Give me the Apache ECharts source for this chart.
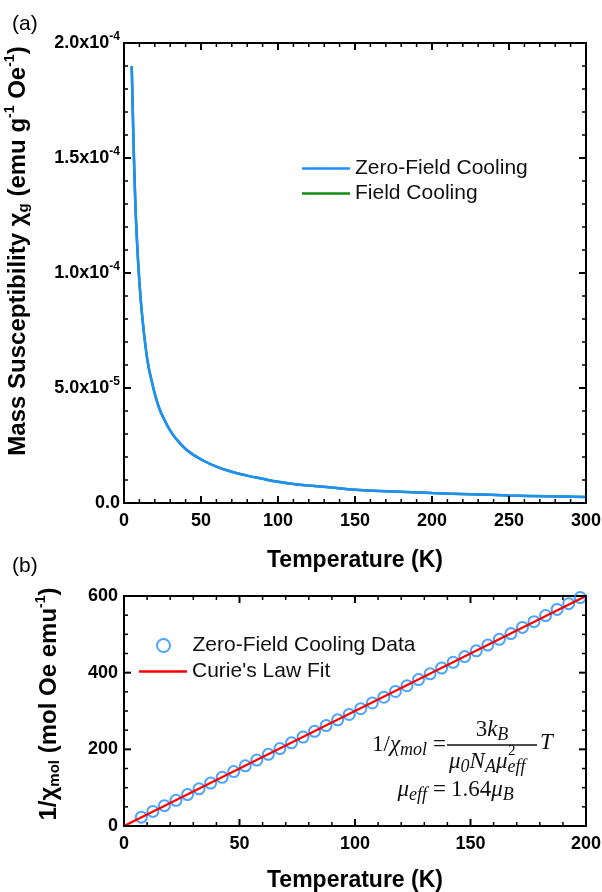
<!DOCTYPE html>
<html>
<head>
	<meta charset="UTF-8">
	<title>Susceptibility</title>
	<script src="https://cdn.jsdelivr.net/npm/echarts@6/dist/echarts.min.js"></script>
	<style>
		body { margin: 0; background: #fff; }
		#main { width: 602px; height: 892px; }
	</style>
</head>
<body>
	<div id="main"></div>
	<script>
		// (a) mass susceptibility vs temperature
		var tempA = [5, 6, 7, 8, 10, 12, 14, 16, 18, 20, 23, 26, 30, 35, 40, 45, 50, 60, 70, 80, 90, 100, 110, 120, 135, 150, 175, 200, 225, 250, 275, 300];
		var chiZFC = [1.90e-4, 1.62e-4, 1.38e-4, 1.20e-4, 9.6e-5, 8.0e-5, 6.8e-5, 5.9e-5, 5.3e-5, 4.75e-5, 4.1e-5, 3.65e-5, 3.15e-5, 2.7e-5, 2.35e-5, 2.1e-5, 1.9e-5, 1.58e-5, 1.36e-5, 1.19e-5, 1.05e-5, 9.2e-6, 8.3e-6, 7.6e-6, 6.7e-6, 5.8e-6, 5.0e-6, 4.3e-6, 3.8e-6, 3.3e-6, 2.9e-6, 2.6e-6];
		var chiFC = [1.90e-4, 1.62e-4, 1.38e-4, 1.20e-4, 9.6e-5, 8.0e-5, 6.8e-5, 5.9e-5, 5.3e-5, 4.75e-5, 4.1e-5, 3.65e-5, 3.15e-5, 2.7e-5, 2.35e-5, 2.1e-5, 1.9e-5, 1.58e-5, 1.36e-5, 1.19e-5, 1.05e-5, 9.2e-6, 8.3e-6, 7.6e-6, 6.7e-6, 5.8e-6, 5.0e-6, 4.3e-6, 3.8e-6, 3.3e-6, 2.9e-6, 2.6e-6];

		// (b) inverse molar susceptibility + Curie fit
		var tempB = [7.5, 12.5, 17.5, 22.5, 27.5, 32.5, 37.5, 42.5, 47.5, 52.5, 57.5, 62.5, 67.5, 72.5, 77.5, 82.5, 87.5, 92.5, 97.5, 102.5, 107.5, 112.5, 117.5, 122.5, 127.5, 132.5, 137.5, 142.5, 147.5, 152.5, 157.5, 162.5, 167.5, 172.5, 177.5, 182.5, 187.5, 192.5, 197.5];
		var invChi = [23, 38, 53, 67, 82, 97, 112, 127, 142, 157, 172, 187, 202, 217, 232, 247, 262, 277, 291, 306, 321, 336, 351, 366, 382, 397, 412, 427, 442, 457, 472, 487, 502, 518, 533, 549, 565, 580, 596];
		var fitT = [0, 200];
		var fitY = [0, 600];

		// axis ranges (interval = major ticks, split = minor subdivisions)
		var xTicksA = { min: 0, max: 300, interval: 50, split: 5 };
		var yTicksA = { min: 0, max: 2e-4, interval: 5e-5, split: 5 };
		var xTicksB = { min: 0, max: 200, interval: 50, split: 5 };
		var yTicksB = { min: 0, max: 600, interval: 200, split: 4 };

		function pairs(xs, ys) {
			return xs.map(function (x, i) { return [x, ys[i]]; });
		}

		var FONT = 'Liberation Sans, Arial, sans-serif';
		var SERIF = 'Liberation Serif, Times New Roman, serif';
		var BLUE = '#1E8FFF';
		var MAJOR = 7, MINOR = 4;

		// tick list [value, length, kind]; kind 0 = x tick, 1 = y tick
		function tickItems(t, kind) {
			var out = [];
			var step = t.interval / t.split;
			var n = Math.round((t.max - t.min) / step);
			for (var k = 0; k <= n; k++) {
				out.push([t.min + k * step, k % t.split === 0 ? MAJOR : MINOR, kind]);
			}
			return out;
		}

		// inward ticks on all four sides, placed through the axis scales
		function tickSeries(grid, xt, yt) {
			return {
				type: 'custom', xAxisIndex: grid, yAxisIndex: grid, silent: true, clip: false, z: 10,
				data: tickItems(xt, 0).concat(tickItems(yt, 1)),
				renderItem: function (params, api) {
					var v = api.value(0), len = api.value(1), kind = api.value(2);
					var w = len === MAJOR ? 2 : 1.5;
					var a, b, s1, s2;
					if (kind === 0) {
						a = api.coord([v, yt.min]); b = api.coord([v, yt.max]);
						s1 = { x1: a[0], y1: a[1], x2: a[0], y2: a[1] - len };
						s2 = { x1: b[0], y1: b[1], x2: b[0], y2: b[1] + len };
					} else {
						a = api.coord([xt.min, v]); b = api.coord([xt.max, v]);
						s1 = { x1: a[0], y1: a[1], x2: a[0] + len, y2: a[1] };
						s2 = { x1: b[0], y1: b[1], x2: b[0] - len, y2: b[1] };
					}
					return {
						type: 'group',
						children: [
							{ type: 'line', shape: s1, style: { stroke: '#000', lineWidth: w } },
							{ type: 'line', shape: s2, style: { stroke: '#000', lineWidth: w } }
						]
					};
				}
			};
		}

		function axisLine() { return { show: true, lineStyle: { color: '#000', width: 2 } }; }
		function tickLabel(m) { return { margin: m, color: '#000', fontSize: 18, fontWeight: 'bold', fontFamily: FONT }; }

		var nameRich = {
			n: { fontSize: 24, fontWeight: 'bold', fontFamily: FONT, color: '#000', verticalAlign: 'middle' },
			sub: { fontSize: 15, fontWeight: 'bold', fontFamily: FONT, color: '#000', verticalAlign: 'middle', padding: [12, 0, 0, 0] },
			sup: { fontSize: 14, fontWeight: 'bold', fontFamily: FONT, color: '#000', verticalAlign: 'middle', padding: [0, 0, 16, 0] }
		};

		function sciLabel(v) {
			if (v === 0) return '{b|0.0}';
			var e = Math.floor(Math.log10(v) + 1e-9);
			var m = (v / Math.pow(10, e)).toFixed(1);
			return '{b|' + m + 'x10}{s|' + e + '}';
		}

		var legendText = { fontSize: 21, fontFamily: FONT, color: '#111' };

		// math text styles for the Curie-law annotation
		var mathRich = {
			r: { fontSize: 23, fontFamily: SERIF, fill: '#111', verticalAlign: 'middle' },
			i: { fontSize: 23, fontFamily: SERIF, fontStyle: 'italic', fill: '#111', verticalAlign: 'middle' },
			s: { fontSize: 18, fontFamily: SERIF, fontStyle: 'italic', fill: '#111', verticalAlign: 'middle', padding: [11, 0, 0, 0] },
			g: { fontSize: 23, fontFamily: SERIF, fill: '#111', width: 6 }
		};

		var chart = echarts.init(document.getElementById('main'), null, { renderer: 'canvas' });

		var option = {
			backgroundColor: '#fff',
			animation: false,
			grid: [
				{ left: 124, width: 462, top: 43, height: 460, outerBoundsMode: 'none', show: true, borderColor: '#000', borderWidth: 2, backgroundColor: 'rgba(0,0,0,0)' },
				{ left: 124, width: 462, top: 596, height: 230, outerBoundsMode: 'none', show: true, borderColor: '#000', borderWidth: 2, backgroundColor: 'rgba(0,0,0,0)' }
			],
			xAxis: [
				{
					type: 'value', gridIndex: 0, min: xTicksA.min, max: xTicksA.max, interval: xTicksA.interval,
					name: 'Temperature (K)', nameLocation: 'middle', nameGap: 46,
					nameTextStyle: { fontSize: 23, fontWeight: 'bold', fontFamily: FONT, color: '#000' },
					axisLine: axisLine(), axisTick: { show: false },
					axisLabel: tickLabel(9), splitLine: { show: false }
				},
				{
					type: 'value', gridIndex: 1, min: xTicksB.min, max: xTicksB.max, interval: xTicksB.interval,
					name: 'Temperature (K)', nameLocation: 'middle', nameGap: 43,
					nameTextStyle: { fontSize: 23, fontWeight: 'bold', fontFamily: FONT, color: '#000' },
					axisLine: axisLine(), axisTick: { show: false },
					axisLabel: tickLabel(9), splitLine: { show: false }
				}
			],
			yAxis: [
				{
					type: 'value', gridIndex: 0, min: yTicksA.min, max: yTicksA.max, interval: yTicksA.interval,
					name: '{n|Mass Susceptibility χ}{sub|g}{n| (emu g}{sup|-1}{n| Oe}{sup|-1}{n|)}',
					nameLocation: 'middle', nameGap: 91, nameRotate: 90,
					nameTextStyle: { rich: nameRich, padding: [0, 0, 0, 44] },
					axisLine: axisLine(), axisTick: { show: false }, splitLine: { show: false },
					axisLabel: {
						margin: 4, formatter: sciLabel,
						rich: {
							b: { fontSize: 18, fontWeight: 'bold', fontFamily: FONT, color: '#000', verticalAlign: 'middle' },
							s: { fontSize: 12, fontWeight: 'bold', fontFamily: FONT, color: '#000', verticalAlign: 'middle', padding: [0, 0, 13, 0] }
						}
					}
				},
				{
					type: 'value', gridIndex: 1, min: yTicksB.min, max: yTicksB.max, interval: yTicksB.interval,
					name: '{n|1/χ}{sub|mol}{n| (mol Oe emu}{sup|-1}{n|)}',
					nameLocation: 'middle', nameGap: 60, nameRotate: 90,
					nameTextStyle: { rich: nameRich, padding: [0, 0, 0, 14] },
					axisLine: axisLine(), axisTick: { show: false }, splitLine: { show: false },
					axisLabel: tickLabel(6)
				}
			],
			legend: [
				{
					data: ['Zero-Field Cooling', 'Field Cooling'],
					orient: 'vertical', left: 302, top: 158, itemGap: 4, padding: 0,
					icon: 'rect', itemWidth: 48, itemHeight: 2.5,
					textStyle: legendText
				},
				{
					data: ['Zero-Field Cooling Data'],
					orient: 'vertical', left: 156, top: 635, padding: 0,
					icon: 'circle', itemWidth: 48, itemHeight: 13,
					itemStyle: { color: '#fff', borderColor: BLUE, borderWidth: 2 },
					textStyle: legendText
				},
				{
					data: ["Curie's Law Fit"],
					orient: 'vertical', left: 139, top: 661, padding: 0,
					icon: 'rect', itemWidth: 48, itemHeight: 2.5,
					textStyle: legendText
				}
			],
			series: [
				{
					name: 'Field Cooling', type: 'line', xAxisIndex: 0, yAxisIndex: 0,
					data: pairs(tempA, chiFC), symbol: 'none', smooth: true, z: 2,
					lineStyle: { color: '#138A13', width: 2.5 }, itemStyle: { color: '#138A13' }
				},
				{
					name: 'Zero-Field Cooling', type: 'line', xAxisIndex: 0, yAxisIndex: 0,
					data: pairs(tempA, chiZFC), symbol: 'none', smooth: true, z: 3,
					lineStyle: { color: BLUE, width: 2.5 }, itemStyle: { color: BLUE }
				},
				{
					name: 'Zero-Field Cooling Data', type: 'scatter', xAxisIndex: 1, yAxisIndex: 1,
					data: pairs(tempB, invChi), symbol: 'circle', symbolSize: 11, z: 2,
					itemStyle: { color: 'rgba(255,255,255,0)', borderColor: BLUE, borderWidth: 2 }
				},
				{
					name: "Curie's Law Fit", type: 'line', xAxisIndex: 1, yAxisIndex: 1,
					data: pairs(fitT, fitY), symbol: 'none', z: 3,
					lineStyle: { color: '#FF0000', width: 2 }, itemStyle: { color: '#FF0000' }
				},
				tickSeries(0, xTicksA, yTicksA),
				tickSeries(1, xTicksB, yTicksB)
			],
			graphic: [
				{ type: 'text', left: 12, top: 14, style: { text: '(a)', fontSize: 21, fontFamily: FONT, fill: '#000' } },
				{ type: 'text', left: 12, top: 556, style: { text: '(b)', fontSize: 21, fontFamily: FONT, fill: '#000' } },
				{
					type: 'text', x: 446, y: 745,
					style: { text: '{r|1/}{i|χ}{s|mol}{g| }{r|=}', align: 'right', verticalAlign: 'middle', rich: mathRich }
				},
				{
					type: 'text', x: 492, y: 730,
					style: { text: '{r|3}{i|k}{s|B}', align: 'center', verticalAlign: 'middle', rich: mathRich }
				},
				{ type: 'line', shape: { x1: 447, y1: 745, x2: 537, y2: 745 }, style: { stroke: '#111', lineWidth: 1.3 } },
				{
					type: 'text', x: 449, y: 762,
					style: { text: '{i|μ}{s|0}{i|N}{s|A}{i|μ}{s|eff}', align: 'left', verticalAlign: 'middle', rich: mathRich }
				},
				{ type: 'text', x: 508, y: 751, style: { text: '2', fontSize: 15, fontFamily: SERIF, fill: '#111', verticalAlign: 'middle' } },
				{ type: 'text', x: 540, y: 743, style: { text: 'T', fontSize: 23, fontFamily: SERIF, fontStyle: 'italic', fill: '#111', verticalAlign: 'middle' } },
				{
					type: 'text', x: 446, y: 790,
					style: { text: '{i|μ}{s|eff}{g| }{r|=}', align: 'right', verticalAlign: 'middle', rich: mathRich }
				},
				{
					type: 'text', x: 451, y: 790,
					style: { text: '{r|1.64}{i|μ}{s|B}', align: 'left', verticalAlign: 'middle', rich: mathRich }
				}
			]
		};

		chart.setOption(option);
	</script>
</body>
</html>
